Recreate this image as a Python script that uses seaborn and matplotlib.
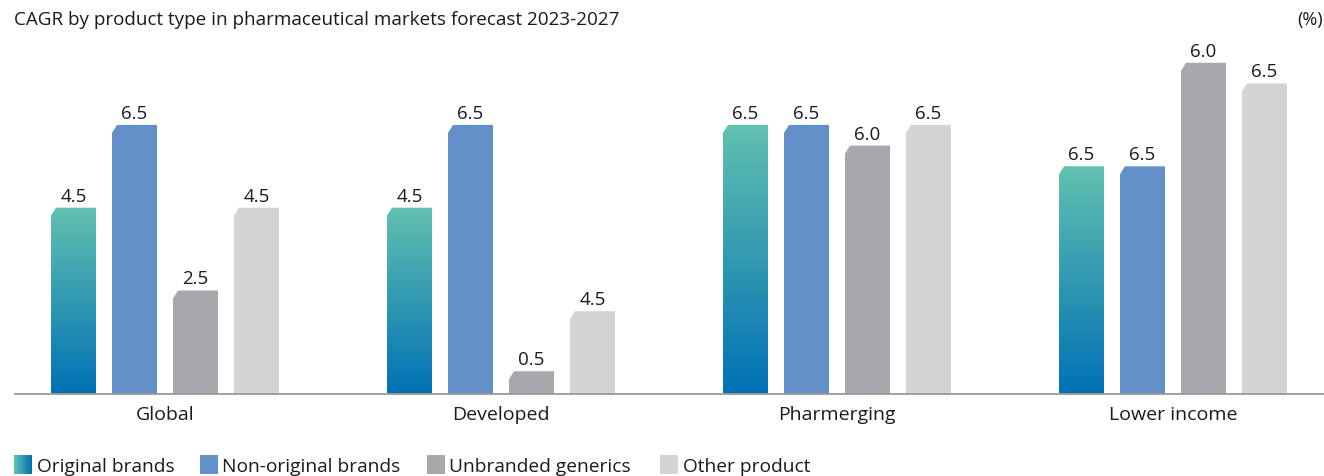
import numpy as np
import pandas as pd
import matplotlib
matplotlib.use("Agg")
import matplotlib.pyplot as plt
import seaborn as sns
from matplotlib.patches import Polygon, Rectangle
from matplotlib.colors import LinearSegmentedColormap

# ---- data ----
categories = ["Global", "Developed", "Pharmerging", "Lower income"]
series = ["Original brands", "Non-original brands", "Unbranded generics", "Other product"]
original_brands = [4.5, 4.5, 6.5, 5.5]
non_original_brands = [6.5, 6.5, 6.5, 5.5]
unbranded_generics = [2.5, 0.55, 6.0, 8.0]
other_product = [4.5, 2.0, 6.5, 7.5]
label_original = ["4.5", "4.5", "6.5", "6.5"]
label_non_original = ["6.5", "6.5", "6.5", "6.5"]
label_unbranded = ["2.5", "0.5", "6.0", "6.0"]
label_other = ["4.5", "4.5", "6.5", "6.5"]

values = [original_brands, non_original_brands, unbranded_generics, other_product]
labels = [label_original, label_non_original, label_unbranded, label_other]

colors = ["#2f95b5", "#6390c8", "#a7a8ab", "#d3d4d6"]
grad_top, grad_bottom = "#62c1af", "#0071b5"

sns.set_theme(style="white")
plt.rcParams["font.family"] = ["Open Sans", "DejaVu Sans"]

rows = []
for s, vals in zip(series, values):
    for c, v in zip(categories, vals):
        rows.append({"category": c, "series": s, "value": v})
df = pd.DataFrame(rows)

W, H = 1324, 477
fig = plt.figure(figsize=(W / 100, H / 100), dpi=100)
ax_left, ax_right, ax_base, ax_top = 15, 1324, 395, 40
ax = fig.add_axes([ax_left / W, 1 - ax_base / H, (ax_right - ax_left) / W, (ax_base - ax_top) / H])

sns.barplot(data=df, x="category", y="value", hue="series", order=categories,
            hue_order=series, palette=colors, saturation=1, width=0.726, gap=0.262,
            legend=False, ax=ax)

px_x = 336.0   # pixels per category unit
px_y = 41.4    # pixels per value unit

cx = 5 / px_x
cy = 8 / px_y
cmap = LinearSegmentedColormap.from_list("g", [grad_bottom, grad_top])
grad = np.linspace(0, 1, 256).reshape(-1, 1)

for hi, cont in enumerate(ax.containers):
    for ci, bar in enumerate(cont):
        x0, w, h = bar.get_x(), bar.get_width(), bar.get_height()
        bar.set_visible(False)
        pts = [(x0, 0), (x0, h - cy), (x0 + cx, h), (x0 + w, h), (x0 + w, 0)]
        if hi == 0:
            poly = Polygon(pts, closed=True, facecolor="none", edgecolor="none")
            ax.add_patch(poly)
            im = ax.imshow(grad, cmap=cmap, origin="lower", aspect="auto",
                           extent=[x0, x0 + w, 0, h], zorder=2)
            im.set_clip_path(poly)
        else:
            ax.add_patch(Polygon(pts, closed=True, facecolor=colors[hi],
                                 edgecolor="none", zorder=2))
        ax.text(x0 + w / 2, h + 3 / px_y, labels[hi][ci], ha="center", va="bottom",
                fontsize=13.5, color="#1a1a1a")

ax.set_xlim(-150 / px_x, (ax_right - 165) / px_x)
ax.set_ylim(0, (ax_base - ax_top) / px_y)
ax.set_xlabel("")
ax.set_ylabel("")
ax.set_yticks([])
ax.tick_params(axis="x", length=0, pad=8, labelsize=14, labelcolor="#1a1a1a")
for s in ["left", "right", "top"]:
    ax.spines[s].set_visible(False)
ax.spines["bottom"].set_color("#9a9a9a")
ax.spines["bottom"].set_linewidth(1.3)

fig.text(14 / W, 1 - 20 / H, "CAGR by product type in pharmaceutical markets forecast 2023-2027",
         ha="left", va="center", fontsize=13.6, color="#1a1a1a")
fig.text(1323 / W, 1 - 20 / H, "(%)", ha="right", va="center", fontsize=13, color="#1a1a1a")

# legend
leg_items = [(14, 37), (200, 222), (427, 449), (660, 683)]
sw_w, sw_h, sw_y = 18, 19, 456
for i, ((sx, tx), name) in enumerate(zip(leg_items, series)):
    if i == 0:
        lax = fig.add_axes([sx / W, 1 - (sw_y + sw_h) / H, sw_w / W, sw_h / H])
        lax.imshow(np.linspace(0, 1, 64).reshape(1, -1),
                   cmap=LinearSegmentedColormap.from_list("h", [grad_top, grad_bottom]),
                   aspect="auto")
        lax.axis("off")
    else:
        fig.add_artist(Rectangle((sx / W, 1 - (sw_y + sw_h) / H), sw_w / W, sw_h / H,
                                 transform=fig.transFigure, facecolor=colors[i], edgecolor="none"))
    fig.text(tx / W, 1 - (sw_y + sw_h / 2 + 1.5) / H, name, ha="left", va="center",
             fontsize=13.8, color="#1a1a1a")

fig.savefig("out.png", dpi=100)
